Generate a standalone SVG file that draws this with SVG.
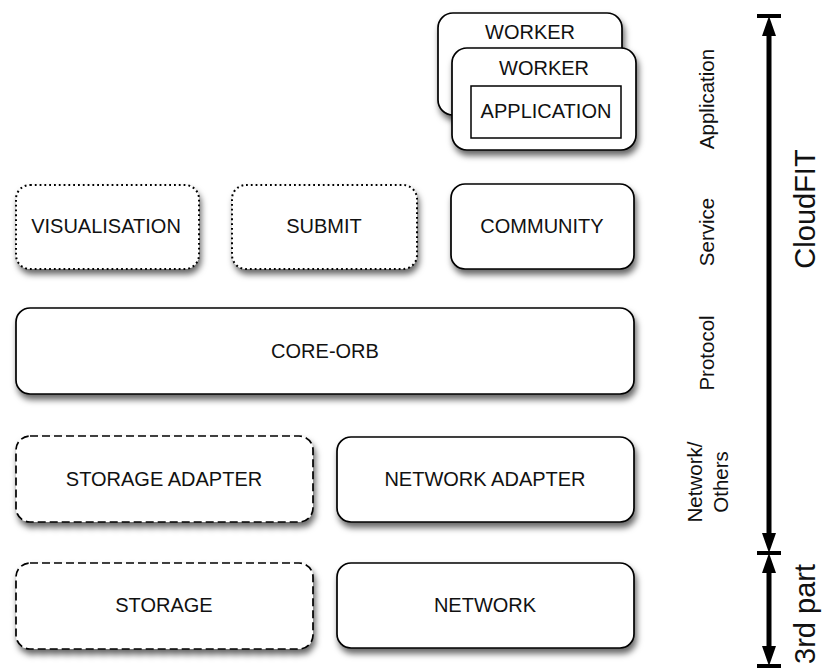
<svg xmlns="http://www.w3.org/2000/svg" width="822" height="668" viewBox="0 0 822 668">
<defs>
<filter id="sh" x="-10%" y="-20%" width="125%" height="150%">
<feDropShadow dx="2" dy="5" stdDeviation="3" flood-color="#000" flood-opacity="0.6"/>
</filter>
<marker id="ah" viewBox="0 0 20 14" markerUnits="userSpaceOnUse" markerWidth="20" markerHeight="14" refX="4" refY="7" orient="auto-start-reverse">
<path d="M0,0 L20,7 L0,14 z" fill="#000"/>
</marker>
<style>
.box{fill:#fff;stroke:#000;stroke-width:1.7;filter:url(#sh)}
.dot{stroke-dasharray:1.8 3;stroke-width:2}
.dash{stroke-dasharray:8 4}
.lbl{font-family:"Liberation Sans",Arial,Helvetica,sans-serif;font-size:20px;fill:#111;text-anchor:middle}
.side{font-family:"Liberation Sans",Arial,Helvetica,sans-serif;font-size:20.5px;fill:#111;text-anchor:middle}
.big{font-family:"Liberation Sans",Arial,Helvetica,sans-serif;font-size:29px;fill:#111;text-anchor:middle}
.axis{stroke:#000;stroke-width:5;fill:none}
.bar{stroke:#000;stroke-width:4}
</style>
</defs>
<rect width="822" height="668" fill="#fff"/>

<g id="worker-back">
<rect class="box" x="438" y="13" width="184" height="102" rx="15"/>
<text class="lbl" x="530" y="39">WORKER</text>
</g>
<g id="worker-front">
<rect class="box" x="452" y="48" width="184" height="102" rx="15"/>
<text class="lbl" x="544" y="75">WORKER</text>
</g>
<g id="application">
<rect x="471" y="86" width="150" height="52" fill="#fff" stroke="#000" stroke-width="1.5"/>
<text class="lbl" x="546" y="118">APPLICATION</text>
</g>

<g id="visualisation">
<rect class="box dot" x="16" y="185" width="183" height="84" rx="14"/>
<text class="lbl" x="106" y="233">VISUALISATION</text>
</g>
<g id="submit">
<rect class="box dot" x="232" y="185" width="185" height="84" rx="14"/>
<text class="lbl" x="324" y="233">SUBMIT</text>
</g>
<g id="community">
<rect class="box" x="451" y="184" width="183" height="85" rx="14"/>
<text class="lbl" x="542" y="233">COMMUNITY</text>
</g>

<g id="core-orb">
<rect class="box" x="16" y="308" width="618" height="86" rx="14"/>
<text class="lbl" x="325" y="358">CORE-ORB</text>
</g>

<g id="storage-adapter">
<rect class="box dash" x="16" y="436" width="297" height="86" rx="14"/>
<text class="lbl" x="164" y="486">STORAGE ADAPTER</text>
</g>
<g id="network-adapter">
<rect class="box" x="337" y="437" width="297" height="85" rx="14"/>
<text class="lbl" x="485" y="486">NETWORK ADAPTER</text>
</g>

<g id="storage">
<rect class="box dash" x="16" y="563" width="297" height="86" rx="14"/>
<text class="lbl" x="164" y="612">STORAGE</text>
</g>
<g id="network">
<rect class="box" x="337" y="563" width="297" height="85" rx="14"/>
<text class="lbl" x="485" y="612">NETWORK</text>
</g>

<g id="layer-labels">
<text class="side" transform="translate(714,99) rotate(-90)">Application</text>
<text class="side" transform="translate(714,232) rotate(-90)">Service</text>
<text class="side" transform="translate(714,353) rotate(-90)">Protocol</text>
<text class="side" transform="translate(702,482) rotate(-90)">Network/</text>
<text class="side" transform="translate(728,482) rotate(-90)">Others</text>
<text class="big" transform="translate(815,209) rotate(-90)">CloudFIT</text>
<text class="big" transform="translate(815,614) rotate(-90)">3rd part</text>
</g>

<g id="connectors">
<line class="bar" x1="757" y1="16" x2="781" y2="16"/>
<line class="bar" x1="757" y1="553" x2="781" y2="553"/>
<line class="bar" x1="757" y1="666" x2="781" y2="666"/>
<line class="axis" x1="769" y1="32" x2="769" y2="537" marker-start="url(#ah)" marker-end="url(#ah)"/>
<line class="axis" x1="769" y1="569" x2="769" y2="650" marker-start="url(#ah)" marker-end="url(#ah)"/>
</g>
</svg>
